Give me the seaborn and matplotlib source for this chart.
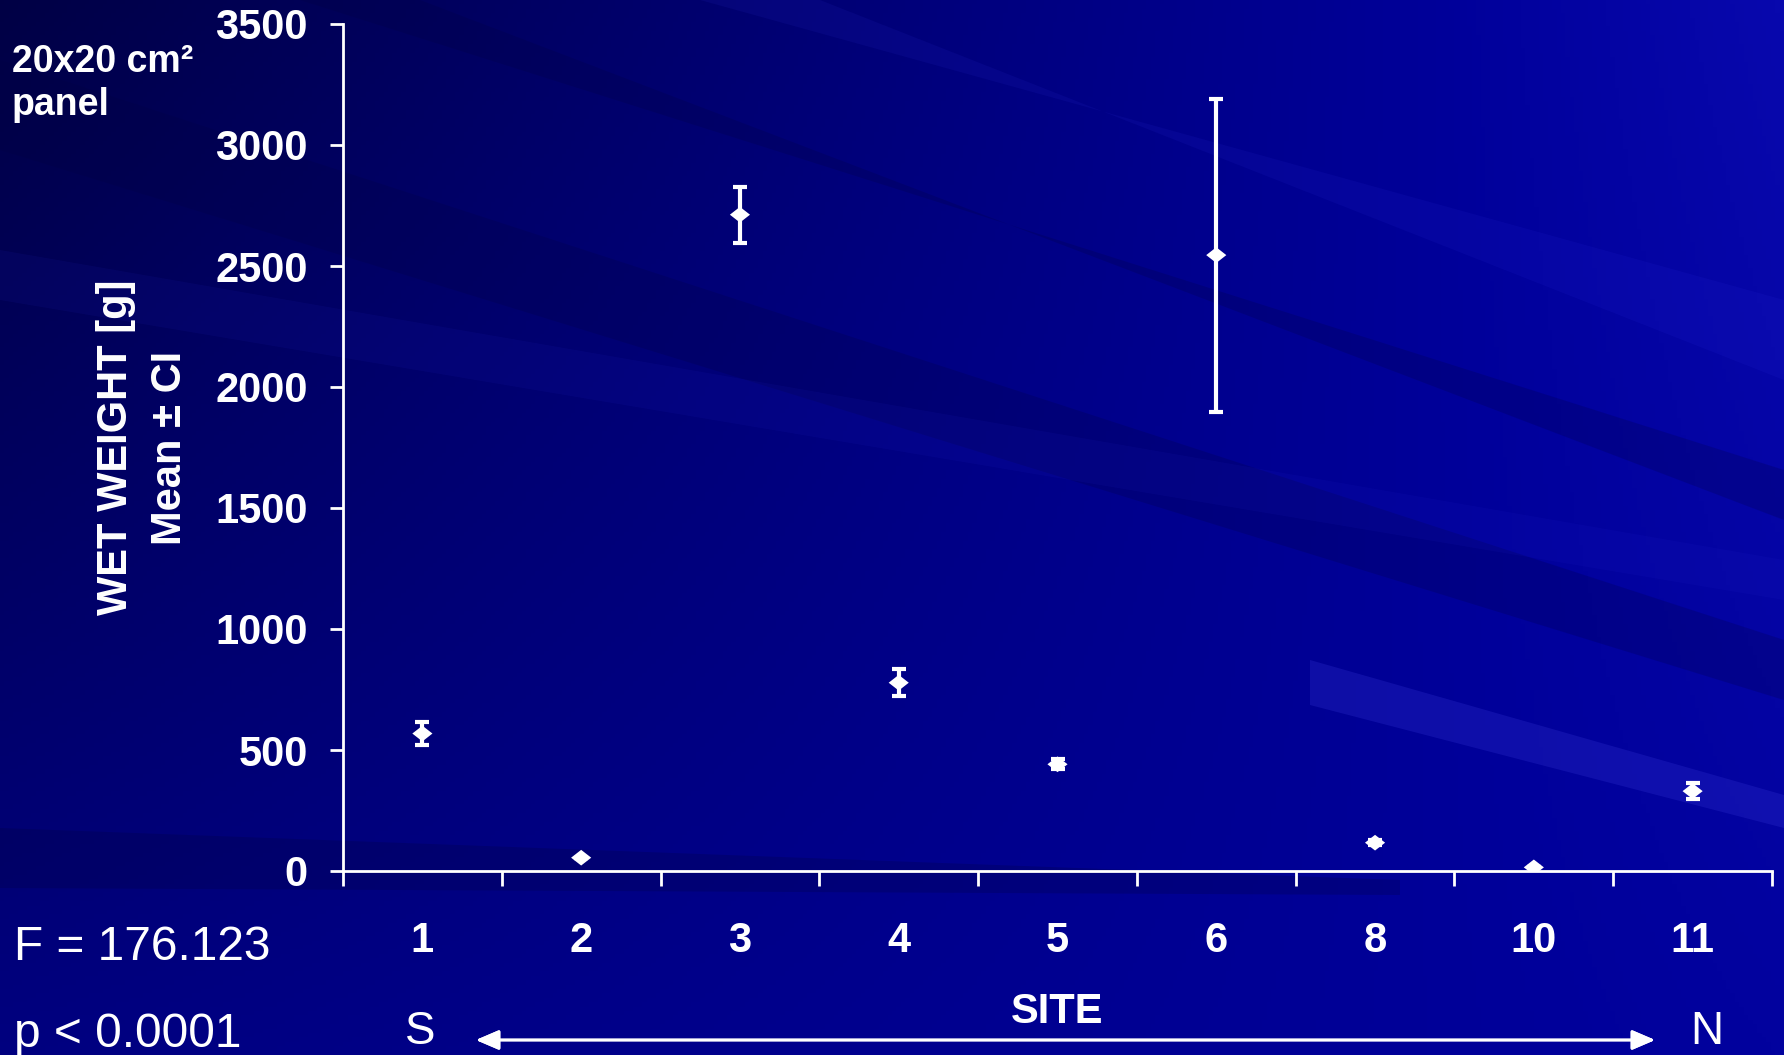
import numpy as np
import pandas as pd
import matplotlib
matplotlib.use('Agg')
import matplotlib.pyplot as plt
from matplotlib.patches import Polygon
import seaborn as sns

# data
sites = ['1', '2', '3', '4', '5', '6', '8', '10', '11']
mean_weight = [568, 55, 2712, 778, 441, 2545, 117, 15, 330]
ci_half = [48, 0, 116, 56, 20, 647, 10, 0, 34]
y_ticks = [0, 500, 1000, 1500, 2000, 2500, 3000, 3500]
f_text = 'F = 176.123'
p_text = 'p < 0.0001'

df = pd.DataFrame({'site': sites, 'mean': mean_weight, 'ci': ci_half})
df['pos'] = np.arange(len(df))

sns.set_style('ticks')
plt.rcParams['font.family'] = ['Liberation Sans', 'DejaVu Sans']

W, H = 1784, 1055
def fx(px):
    return px / W
def fy(py):
    return 1 - py / H

fig = plt.figure(figsize=(W / 100, H / 100), dpi=100)

# slide-style background: navy gradient with a few diagonal rays
bg = fig.add_axes([0, 0, 1, 1], zorder=-10)
xx, yy = np.meshgrid(np.linspace(0, 1, 400), np.linspace(0, 1, 240))
blue = 0.27 * (1 - xx) * (1 - yy) + 0.68 * xx * (1 - yy) + 0.50 * (1 - xx) * yy + 0.62 * xx * yy
extra = np.clip(blue - 0.6, 0, None) * 0.4
bg.imshow(np.dstack([extra, extra, blue]), extent=[0, W, H, 0], aspect='auto')
rays = [
    ([(0, 60), (1784, 640), (1784, 700), (0, 150)], '#000040', 0.22),
    ([(300, 0), (1784, 470), (1784, 520), (420, 0)], '#000040', 0.22),
    ([(700, 0), (1784, 300), (1784, 380), (820, 0)], '#4040ff', 0.08),
    ([(0, 250), (1784, 560), (1784, 600), (0, 300)], '#3030e0', 0.08),
    ([(1310, 660), (1784, 795), (1784, 828), (1310, 705)], '#3030d0', 0.3),
    ([(0, 828), (1400, 880), (1400, 895), (0, 888)], '#000030', 0.2),
]
for verts, col, a in rays:
    bg.add_patch(Polygon(verts, closed=True, facecolor=col, edgecolor='none', alpha=a))
bg.set_xlim(0, W)
bg.set_ylim(H, 0)
bg.axis('off')

ax = fig.add_axes([fx(343), fy(871), (1772 - 343) / W, (871 - 24) / H])
ax.set_facecolor('none')

ax.errorbar(df['pos'], df['mean'], yerr=df['ci'], fmt='none', ecolor='white',
            elinewidth=3, capsize=5, capthick=3, zorder=2)
sns.scatterplot(data=df, x='pos', y='mean', marker=[(-1, 0), (0, 0.78), (1, 0), (0, -0.78)],
                color='white', s=210, edgecolor='none', ax=ax, zorder=3, legend=False)

ax.set_xlim(-0.5, len(sites) - 0.5)
ax.set_ylim(0, 3500)
ax.set_yticks(y_ticks)
ax.set_xticks(np.arange(len(sites) + 1) - 0.5)
ax.set_xticklabels([])
ax.set_xticks(df['pos'], minor=True)
ax.set_xticklabels(sites, minor=True)

for lab in ax.get_yticklabels() + ax.get_xticklabels(minor=True):
    lab.set_fontsize(30)
    lab.set_fontweight('bold')
    lab.set_color('white')

ax.tick_params(axis='x', which='major', length=11, width=2, color='white', direction='out')
ax.tick_params(axis='x', which='minor', length=0, pad=36)
ax.tick_params(axis='y', length=9.5, width=2, color='white', direction='out', pad=16)

sns.despine(ax=ax)
for side in ['left', 'bottom']:
    ax.spines[side].set_color('white')
    ax.spines[side].set_linewidth(2)

ax.set_xlabel('SITE', fontsize=30, fontweight='bold', color='white', labelpad=22)
ax.set_ylabel('WET WEIGHT [g]\nMean ± CI', fontsize=30, fontweight='bold', color='white',
              linespacing=1.45, labelpad=18)

fig.text(fx(12), fy(72), '20x20 cm²', fontsize=27, fontweight='bold', color='white', va='baseline')
fig.text(fx(12), fy(115), 'panel', fontsize=27, fontweight='bold', color='white', va='baseline')
fig.text(fx(14), fy(960), f_text, fontsize=34.5, color='white', va='baseline')
fig.text(fx(14), fy(1047), p_text, fontsize=34.5, color='white', va='baseline')
fig.text(fx(420), fy(1054), 'S', fontsize=33, color='white', va='bottom', ha='center')
fig.text(fx(1707), fy(1054), 'N', fontsize=33, color='white', va='bottom', ha='center')
fig.add_artist(plt.annotate('', xy=(fx(1655), fy(1040)), xytext=(fx(476), fy(1040)),
                            xycoords='figure fraction', textcoords='figure fraction',
                            arrowprops=dict(arrowstyle='<|-|>,head_length=0.7,head_width=0.3',
                                            color='white', lw=2, mutation_scale=20,
                                            shrinkA=0, shrinkB=0)))

fig.savefig('out.png', dpi=100)
